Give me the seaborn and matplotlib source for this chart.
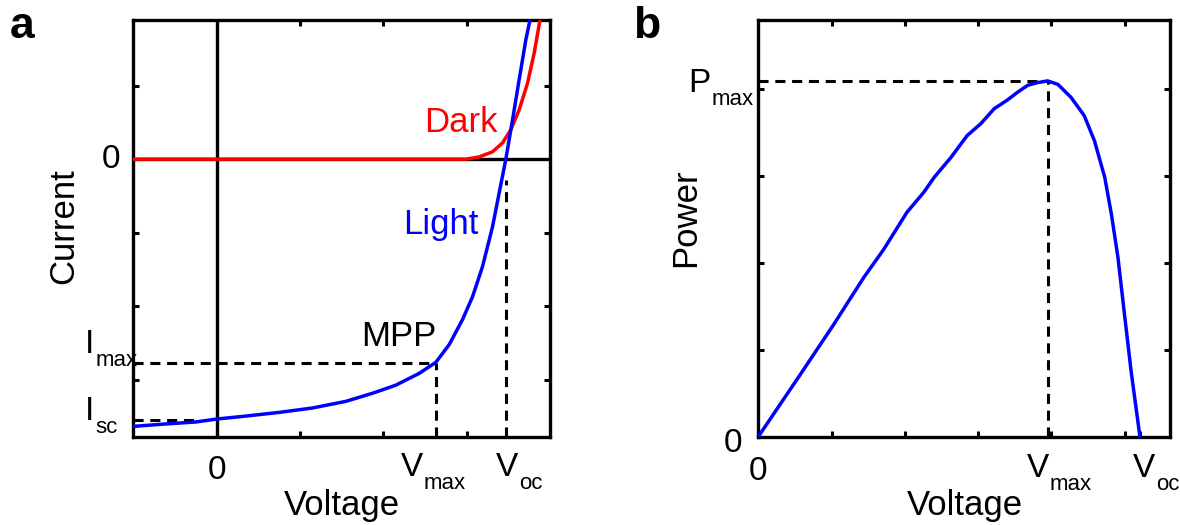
import pandas as pd
import matplotlib
matplotlib.use('Agg')
import matplotlib.pyplot as plt
import seaborn as sns

# Panel a: I-V curves (arbitrary units)
light_v = [-1.0, -0.65, -0.25, 0.0, 0.35, 0.75, 1.15, 1.55, 1.87, 2.15, 2.43, 2.63, 2.79,
           2.95, 3.07, 3.19, 3.31, 3.39, 3.47, 3.55, 3.63, 3.71, 3.76]
light_i = [-3.63, -3.6, -3.57, -3.53, -3.49, -3.44, -3.38, -3.29, -3.18, -3.07, -2.91, -2.76, -2.52,
           -2.18, -1.87, -1.46, -0.92, -0.46, 0.0, 0.53, 1.08, 1.62, 1.89]
dark_v = [-1.0, 0.0, 1.0, 2.0, 2.99, 3.15, 3.31, 3.43, 3.53, 3.63, 3.73, 3.81, 3.88]
dark_i = [0.0, 0.0, 0.0, 0.0, 0.0, 0.03, 0.1, 0.22, 0.4, 0.67, 1.03, 1.44, 1.89]
v_max_a = 2.63
v_oc_a = 3.47
i_max = -2.77
i_sc = -3.54

# Panel b: P-V curve
power_v = [0.0, 0.57, 1.03, 1.44, 1.71, 2.03, 2.26, 2.4, 2.63, 2.85, 3.04, 3.22, 3.4, 3.54,
           3.68, 3.81, 3.95, 4.09, 4.27, 4.45, 4.59, 4.73, 4.82, 4.91, 5.0, 5.09, 5.21]
power_p = [0.0, 0.71, 1.29, 1.83, 2.15, 2.58, 2.81, 2.98, 3.21, 3.46, 3.6, 3.77, 3.87, 3.96,
           4.04, 4.07, 4.09, 4.05, 3.9, 3.69, 3.4, 2.98, 2.56, 2.06, 1.4, 0.75, 0.0]
v_max_b = 3.95
v_oc_b = 5.21
p_max = 4.09

light_df = pd.DataFrame({'Voltage': light_v, 'Current': light_i})
dark_df = pd.DataFrame({'Voltage': dark_v, 'Current': dark_i})
power_df = pd.DataFrame({'Voltage': power_v, 'Power': power_p})

sns.set_theme(style='white')
plt.rcParams['font.family'] = ['Liberation Sans', 'DejaVu Sans']
plt.rcParams['text.color'] = 'black'
plt.rcParams['axes.labelcolor'] = 'black'

fig = plt.figure(figsize=(11.8, 5.25), dpi=100)
ax1 = fig.add_axes([0.113, 0.1682, 0.3531, 0.7937])
ax2 = fig.add_axes([0.6426, 0.1682, 0.3489, 0.7937])

lw = 2.5
dash = dict(ls=(0, (3.3, 2.2)), color='black', lw=2.2)
PX = 0.72  # pixels -> points at 100 dpi


def style_axes(ax):
    for s in ax.spines.values():
        s.set_linewidth(2.4)
        s.set_color('black')
    ax.tick_params(which='both', direction='in', length=4.5, width=2.2, colors='black',
                   labelbottom=False, labelleft=False)
    ax.tick_params(which='major', top=False, right=False, bottom=True, left=True)
    ax.tick_params(which='minor', top=True, right=True, bottom=True, left=True)


def tick_text(ax, trans, x, y, main, sub, dx, dy, ha):
    # main symbol at baseline offset (dx, dy) px, subscript dropped below its baseline
    t = ax.annotate(main, xy=(x, y), xycoords=trans, xytext=(dx * PX, dy * PX),
                    textcoords='offset points', ha=ha, va='baseline', fontsize=24,
                    annotation_clip=False)
    if sub:
        ax.annotate(sub, xy=(1, 0), xycoords=t, xytext=(0.5, -4.3),
                    textcoords='offset points', ha='left', va='baseline', fontsize=16,
                    annotation_clip=False)


# ---- panel a ----
ax1.axhline(0, color='black', lw=2.4, zorder=1)
ax1.axvline(0, color='black', lw=2.4, zorder=1)
ax1.plot([-1.0, v_max_a], [i_max, i_max], zorder=2, **dash)
ax1.plot([v_max_a, v_max_a], [-3.77, i_max], zorder=2, **dash)
ax1.plot([v_oc_a, v_oc_a], [-3.77, -0.28], zorder=2, **dash)
ax1.plot([-1.0, -0.2], [i_sc, i_sc], zorder=2, **dash)
sns.lineplot(data=dark_df, x='Voltage', y='Current', color='#ff0000', lw=lw, ax=ax1, sort=False, zorder=3)
sns.lineplot(data=light_df, x='Voltage', y='Current', color='#0000ff', lw=lw, ax=ax1, sort=False, zorder=4)
ax1.set_xlim(-1.0, 4.0)
ax1.set_ylim(-3.77, 1.89)
ax1.set_xticks([0, v_max_a, v_oc_a])
ax1.set_xticks([1, 2, 3], minor=True)
ax1.set_yticks([0, i_max, i_sc])
ax1.set_yticks([1, -1, -2, -3], minor=True)
style_axes(ax1)
ax1.set_xlabel('')
ax1.set_ylabel('')

xt = ax1.get_xaxis_transform()
yt = ax1.get_yaxis_transform()
tick_text(ax1, xt, 0, 0, '0', None, 0, -42, 'center')
tick_text(ax1, xt, v_max_a, 0, 'V', 'max', -24, -39, 'center')
tick_text(ax1, xt, v_oc_a, 0, 'V', 'oc', 1.5, -39, 'center')
tick_text(ax1, yt, 0, 0, '0', None, -13, -9, 'right')
tick_text(ax1, yt, 0, i_max, 'I', 'max', -48, 10, 'left')
tick_text(ax1, yt, 0, i_sc, 'I', 'sc', -48, 0, 'left')

ax1.text(2.93, 0.5, 'Dark', color='#ff0000', fontsize=25, ha='center', va='center')
ax1.text(2.69, -0.89, 'Light', color='#0000ff', fontsize=25, ha='center', va='center')
ax1.text(2.19, -2.41, 'MPP', color='black', fontsize=25, ha='center', va='center')

# ---- panel b ----
ax2.plot([0, v_max_b], [p_max, p_max], zorder=2, **dash)
ax2.plot([v_max_b, v_max_b], [0, p_max], zorder=2, **dash)
sns.lineplot(data=power_df, x='Voltage', y='Power', color='#0000ff', lw=lw, ax=ax2, sort=False, zorder=3)
ax2.set_xlim(0, 5.62)
ax2.set_ylim(0, 4.79)
ax2.set_xticks([0, v_max_b, v_oc_b])
ax2.set_xticks([1, 2, 3, 4, 5], minor=True)
ax2.set_yticks([0, p_max])
ax2.set_yticks([1, 2, 3, 4], minor=True)
style_axes(ax2)
ax2.set_xlabel('')
ax2.set_ylabel('')

xt = ax2.get_xaxis_transform()
yt = ax2.get_yaxis_transform()
tick_text(ax2, xt, 0, 0, '0', None, 0, -43, 'center')
tick_text(ax2, xt, v_max_b, 0, 'V', 'max', -10, -40, 'center')
tick_text(ax2, xt, v_oc_b, 0, 'V', 'oc', 4.5, -40, 'center')
tick_text(ax2, yt, 0, 0, '0', None, -16, -15, 'right')
tick_text(ax2, yt, 0, p_max, 'P', 'max', -70, -11, 'left')

# axis titles
fig.text(342 / 1180, 1 - 515 / 525, 'Voltage', fontsize=25, ha='center', va='baseline')
fig.text(965 / 1180, 1 - 515 / 525, 'Voltage', fontsize=25, ha='center', va='baseline')
fig.text(64 / 1180, 1 - 226 / 525, 'Current', fontsize=25, rotation=90, ha='center', va='center')
fig.text(686 / 1180, 1 - 218 / 525, 'Power', fontsize=25, rotation=90, ha='center', va='center')

fig.text(22 / 1180, 1 - 27 / 525, 'a', fontsize=32, fontweight='bold', ha='center', va='center')
fig.text(647 / 1180, 1 - 27 / 525, 'b', fontsize=32, fontweight='bold', ha='center', va='center')

fig.savefig('out.png', dpi=100)
